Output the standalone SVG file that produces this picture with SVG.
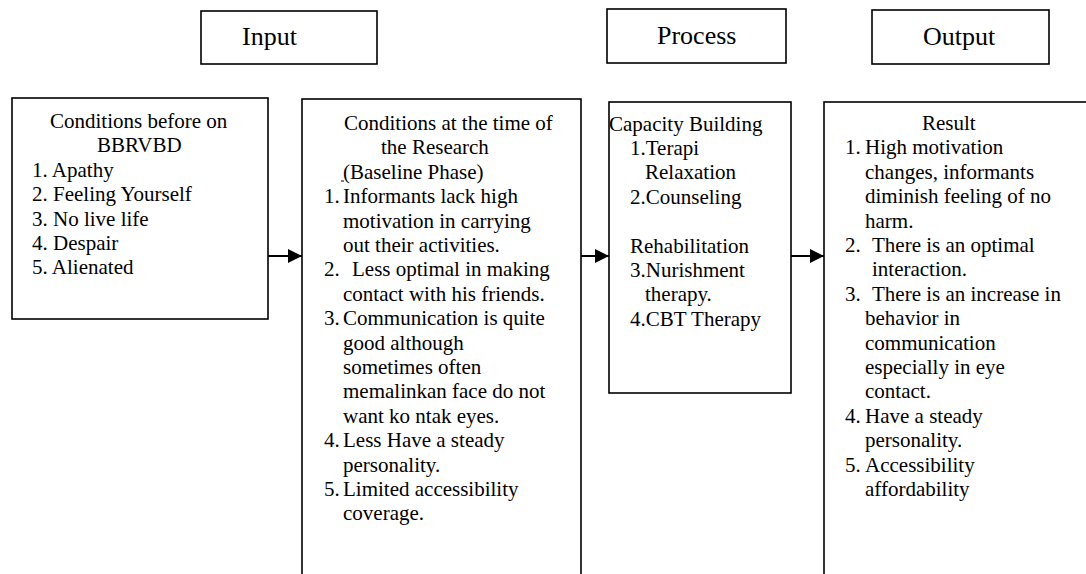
<svg xmlns="http://www.w3.org/2000/svg" width="1086" height="574" viewBox="0 0 1086 574">
<style>
.box{fill:#fff;stroke:#000;stroke-width:1.6}
.t{font-family:'Liberation Serif','Times New Roman',Times,Tinos,'DejaVu Serif','Noto Serif',serif;font-size:21px;fill:#000}
.h{font-family:'Liberation Serif','Times New Roman',Times,Tinos,'DejaVu Serif','Noto Serif',serif;font-size:26px;fill:#000}
.c{stroke:#000;stroke-width:2;fill:none}
</style>
<defs>
<marker id="ah" markerUnits="userSpaceOnUse" markerWidth="14" markerHeight="14" refX="14" refY="7" orient="auto">
<path d="M0,0 L14,7 L0,14 z" fill="#000"/>
</marker>
</defs>
<rect width="1086" height="574" fill="#fff"/>
<g id="input-header">
<rect class="box" x="201" y="11" width="176" height="53"/>
<text class="h" x="242" y="45">Input</text>
</g>
<g id="process-header">
<rect class="box" x="607" y="9" width="179" height="54"/>
<text class="h" x="657" y="44">Process</text>
</g>
<g id="output-header">
<rect class="box" x="872" y="10" width="177" height="54"/>
<text class="h" x="923" y="45">Output</text>
</g>
<g id="before">
<rect class="box" x="12" y="98" width="256" height="221"/>
<text class="t" x="50" y="128">Conditions before on</text>
<text class="t" x="97" y="152.4">BBRVBD</text>
<text class="t" x="32" y="176.8">1. Apathy</text>
<text class="t" x="32" y="201.2">2. Feeling Yourself</text>
<text class="t" x="32" y="225.6">3. No live life</text>
<text class="t" x="32" y="250">4. Despair</text>
<text class="t" x="32" y="274.4">5. Alienated</text>
</g>
<g id="baseline">
<rect class="box" x="302" y="99" width="279" height="490"/>
<text class="t" x="344" y="130">Conditions at the time of</text>
<text class="t" x="381" y="154.4">the Research</text>
<line x1="341" y1="181" x2="344" y2="181" stroke="#000" stroke-width="1"/>
<text class="t" x="343" y="178.8">(Baseline Phase)</text>
<text class="t" x="324" y="203.2">1.</text><text class="t" x="343" y="203.2">Informants lack high</text>
<text class="t" x="343" y="227.6">motivation in carrying</text>
<text class="t" x="343" y="252">out their activities.</text>
<text class="t" x="324" y="276.4">2.</text><text class="t" x="352" y="276.4">Less optimal in making</text>
<text class="t" x="343" y="300.8">contact with his friends.</text>
<text class="t" x="324" y="325.2">3.</text><text class="t" x="343" y="325.2">Communication is quite</text>
<text class="t" x="343" y="349.6">good although</text>
<text class="t" x="343" y="374">sometimes often</text>
<text class="t" x="343" y="398.4">memalinkan face do not</text>
<text class="t" x="343" y="422.8">want ko ntak eyes.</text>
<text class="t" x="324" y="447.2">4.</text><text class="t" x="343" y="447.2">Less Have a steady</text>
<text class="t" x="343" y="471.6">personality.</text>
<text class="t" x="324" y="496">5.</text><text class="t" x="343" y="496">Limited accessibility</text>
<text class="t" x="343" y="520.4">coverage.</text>
</g>
<g id="process">
<rect class="box" x="609" y="102" width="182" height="291"/>
<text class="t" x="609" y="130.6">Capacity Building</text>
<text class="t" x="630" y="155">1.Terapi</text>
<text class="t" x="645" y="179.4">Relaxation</text>
<text class="t" x="630" y="203.8">2.Counseling</text>
<text class="t" x="630" y="252.6">Rehabilitation</text>
<text class="t" x="630" y="277">3.Nurishment</text>
<text class="t" x="645" y="301.4">therapy.</text>
<text class="t" x="630" y="325.8">4.CBT Therapy</text>
</g>
<g id="result">
<rect class="box" x="824" y="102" width="300" height="500"/>
<text class="t" x="922" y="130">Result</text>
<text class="t" x="845" y="154.4">1.</text><text class="t" x="865" y="154.4">High motivation</text>
<text class="t" x="865" y="178.8">changes, informants</text>
<text class="t" x="865" y="203.2">diminish feeling of no</text>
<text class="t" x="865" y="227.6">harm.</text>
<text class="t" x="845" y="252">2.</text><text class="t" x="872" y="252">There is an optimal</text>
<text class="t" x="872" y="276.4">interaction.</text>
<text class="t" x="845" y="300.8">3.</text><text class="t" x="872" y="300.8">There is an increase in</text>
<text class="t" x="865" y="325.2">behavior in</text>
<text class="t" x="865" y="349.6">communication</text>
<text class="t" x="865" y="374">especially in eye</text>
<text class="t" x="865" y="398.4">contact.</text>
<text class="t" x="845" y="422.8">4.</text><text class="t" x="865" y="422.8">Have a steady</text>
<text class="t" x="865" y="447.2">personality.</text>
<text class="t" x="845" y="471.6">5.</text><text class="t" x="865" y="471.6">Accessibility</text>
<text class="t" x="865" y="496">affordability</text>
</g>
<g id="connectors">
<line class="c" x1="268" y1="256" x2="302" y2="256" marker-end="url(#ah)"/>
<line class="c" x1="581" y1="256" x2="609" y2="256" marker-end="url(#ah)"/>
<line class="c" x1="791" y1="256" x2="824" y2="256" marker-end="url(#ah)"/>
</g>
</svg>
